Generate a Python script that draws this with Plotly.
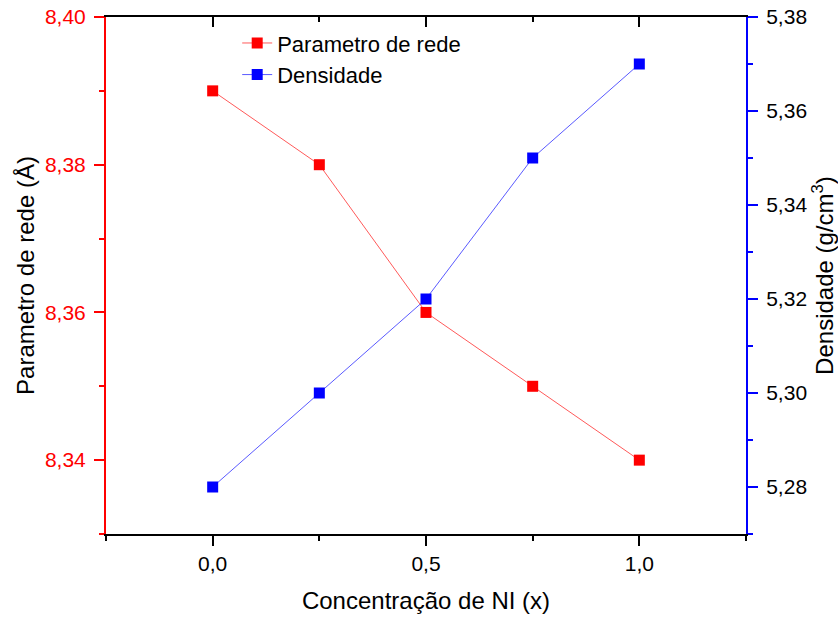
import plotly.graph_objects as go

concentracao = [0.0, 0.25, 0.5, 0.75, 1.0]
parametro_rede = [8.39, 8.38, 8.36, 8.35, 8.34]
densidade = [5.28, 5.30, 5.32, 5.35, 5.37]

FONT = "Liberation Sans, Arial, sans-serif"
RED = "#ff0000"
BLUE = "#0000ff"

fig = go.Figure()
fig.add_trace(go.Scatter(
    x=concentracao, y=parametro_rede, name="Parametro de rede",
    mode="lines+markers",
    line=dict(color="rgba(255,0,0,0.65)", width=1),
    marker=dict(symbol="square", size=11, color=RED),
    xaxis="x", yaxis="y",
))
fig.add_trace(go.Scatter(
    x=concentracao, y=densidade, name="Densidade",
    mode="lines+markers",
    line=dict(color="rgba(0,0,255,0.65)", width=1),
    marker=dict(symbol="square", size=11, color=BLUE),
    xaxis="x", yaxis="y2",
))
# invisible trace so the mirrored top axis gets drawn
fig.add_trace(go.Scatter(
    x=concentracao, y=parametro_rede, mode="markers",
    marker=dict(opacity=0), showlegend=False, hoverinfo="skip",
    xaxis="x2", yaxis="y",
))

fig.update_layout(
    width=838, height=617,
    margin=dict(l=106, r=92, t=17, b=83, autoexpand=False),
    paper_bgcolor="white", plot_bgcolor="white",
    separators=",.",
    font=dict(family=FONT, color="black", size=21),
    showlegend=True,
    legend=dict(
        x=0.205, y=0.99, xanchor="left", yanchor="top",
        bgcolor="rgba(0,0,0,0)", font=dict(size=22, family=FONT),
        tracegroupgap=0, itemwidth=30,
    ),
    xaxis=dict(
        range=[-0.25, 1.25], tick0=0, dtick=0.5, tickformat=".1f",
        ticks="outside", ticklen=10, tickwidth=2, tickcolor="black",
        minor=dict(dtick=0.25, ticks="outside", ticklen=5, tickwidth=2, tickcolor="black"),
        showline=True, linecolor="black", linewidth=2,
        showgrid=False, zeroline=False,
        tickfont=dict(size=21),
        title=dict(text="Concentração de NI (x)", font=dict(size=24), standoff=18),
    ),
    xaxis2=dict(
        overlaying="x", side="top", anchor="y",
        range=[-0.25, 1.25], tick0=0, dtick=0.5,
        ticks="inside", ticklen=10, tickwidth=2, tickcolor="black",
        minor=dict(dtick=0.25, ticks="inside", ticklen=5, tickwidth=2, tickcolor="black"),
        showticklabels=False,
        showline=True, linecolor="black", linewidth=2,
        showgrid=False, zeroline=False,
    ),
    yaxis=dict(
        range=[8.33, 8.40], tick0=8.34, dtick=0.02, tickformat=".2f",
        ticks="outside", ticklen=10, tickwidth=2, tickcolor=RED,
        minor=dict(dtick=0.01, ticks="outside", ticklen=5, tickwidth=2, tickcolor=RED),
        showline=True, linecolor=RED, linewidth=2,
        showgrid=False, zeroline=False,
        tickfont=dict(color=RED, size=21),
        ticklabelstandoff=4,
        title=dict(text="Parametro de rede (Å)", font=dict(size=24, color="black"), standoff=4),
    ),
    yaxis2=dict(
        overlaying="y", side="right", anchor="x",
        range=[5.27, 5.38], tick0=5.28, dtick=0.02, tickformat=".2f",
        ticks="outside", ticklen=10, tickwidth=2, tickcolor=BLUE,
        minor=dict(dtick=0.01, ticks="outside", ticklen=5, tickwidth=2, tickcolor=BLUE),
        showline=True, linecolor=BLUE, linewidth=2,
        showgrid=False, zeroline=False,
        tickfont=dict(color="black", size=21),
        ticklabelstandoff=4,
        title=dict(text="Densidade (g/cm<sup>3</sup>)", font=dict(size=24, color="black"), standoff=14),
    ),
)

fig.write_html("out.html")
